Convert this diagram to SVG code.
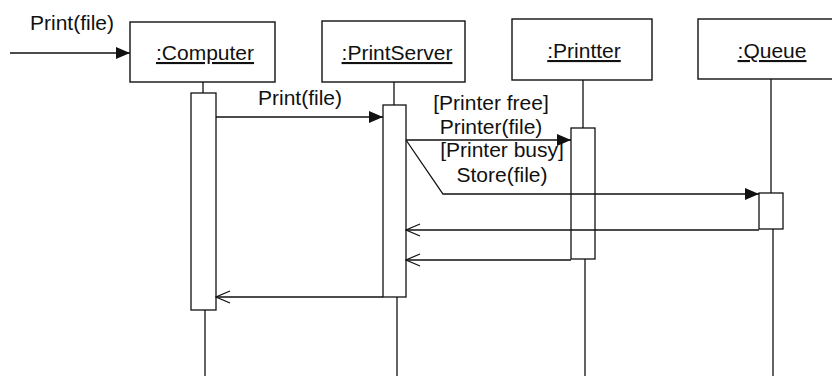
<svg xmlns="http://www.w3.org/2000/svg" width="832" height="376" viewBox="0 0 832 376">
<defs>
<style>
.box{fill:#fff;stroke:#111;stroke-width:1.4}
.act{fill:#fff;stroke:#111;stroke-width:1.3}
.ll{stroke:#111;stroke-width:1.3;fill:none}
.msg{stroke:#111;stroke-width:1.3;fill:none}
.t{font-family:"Liberation Sans",Arial,sans-serif;font-size:21px;fill:#111}
.u{text-decoration:underline}
</style>
<marker id="fill" viewBox="0 0 14 12" refX="14" refY="6" markerWidth="14" markerHeight="12" markerUnits="userSpaceOnUse" orient="auto">
<path d="M0,0 L14,6 L0,12 Z" fill="#111"/>
</marker>
<marker id="open" viewBox="0 0 16 14" refX="15" refY="7" markerWidth="16" markerHeight="14" markerUnits="userSpaceOnUse" orient="auto">
<path d="M1,1 L15,7 L1,13" fill="none" stroke="#111" stroke-width="1.3"/>
</marker>
</defs>
<rect width="832" height="376" fill="#fff"/>
<g id="lifelines">
<path class="ll" d="M203,82 V93 M205,310 V376"/>
<path class="ll" d="M394,82 V105 M397,297 V376"/>
<path class="ll" d="M583,80 V128 M585,259 V376"/>
<path class="ll" d="M771,79 V193 M773,229 V376"/>
</g>
<g id="computer">
<rect class="box" x="130" y="22" width="145" height="60"/>
<text class="t u" x="205" y="60" text-anchor="middle">:Computer</text>
<rect class="act" x="191" y="93" width="25" height="217"/>
</g>
<g id="printserver">
<rect class="box" x="322" y="21" width="143" height="61"/>
<text class="t u" x="397" y="60" text-anchor="middle">:PrintServer</text>
<rect class="act" x="383" y="105" width="23" height="192"/>
</g>
<g id="printter">
<rect class="box" x="512" y="19" width="140" height="61"/>
<text class="t u" x="584" y="58" text-anchor="middle">:Printter</text>
<rect class="act" x="571" y="128" width="24" height="131"/>
</g>
<g id="queue">
<rect class="box" x="698" y="19" width="140" height="60"/>
<text class="t u" x="772" y="58" text-anchor="middle">:Queue</text>
<rect class="act" x="759" y="193" width="24" height="36"/>
</g>
<g id="connectors">
<line class="msg" x1="10" y1="53" x2="130" y2="53" marker-end="url(#fill)"/>
<line class="msg" x1="216" y1="117" x2="383" y2="117" marker-end="url(#fill)"/>
<line class="msg" x1="406" y1="140" x2="571" y2="140" marker-end="url(#fill)"/>
<polyline class="msg" points="406,140 443,194 759,194" marker-end="url(#fill)"/>
<line class="msg" x1="759" y1="230" x2="406" y2="230" marker-end="url(#open)"/>
<line class="msg" x1="571" y1="260" x2="406" y2="260" marker-end="url(#open)"/>
<line class="msg" x1="383" y1="297" x2="216" y2="297" marker-end="url(#open)"/>
</g>
<g id="labels">
<text class="t" x="30" y="30">Print(file)</text>
<text class="t" x="258" y="105">Print(file)</text>
<text class="t" x="491" y="110" text-anchor="middle">[Printer free]</text>
<text class="t" x="491" y="134" text-anchor="middle">Printer(file)</text>
<text class="t" x="502" y="157" text-anchor="middle">[Printer busy]</text>
<text class="t" x="502" y="182" text-anchor="middle">Store(file)</text>
</g>
</svg>
